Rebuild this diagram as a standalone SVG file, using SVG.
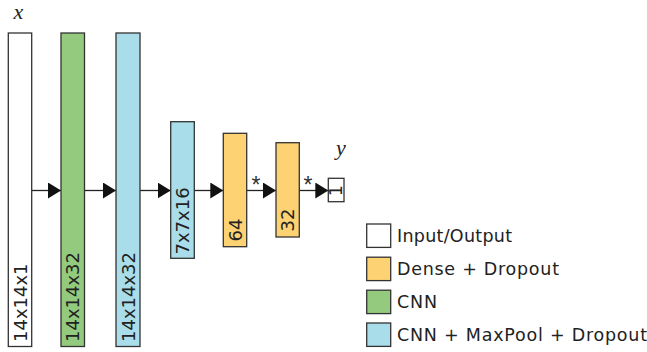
<svg xmlns="http://www.w3.org/2000/svg" width="647" height="352" viewBox="0 0 647 352">
<defs>
<marker id="ah" markerUnits="userSpaceOnUse" markerWidth="14" markerHeight="16" refX="13" refY="8" orient="auto">
<path d="M0,0 L13,8 L0,16 Z" fill="#111"/>
</marker>
<style>
.box{stroke:#333;stroke-width:1.3}
.io{fill:#ffffff}
.dense{fill:#fdd272}
.cnn{fill:#93ca7e}
.pool{fill:#a9dde9}
.lbl{font-family:"DejaVu Sans",sans-serif;font-size:18px;fill:#222}
.leg{font-family:"DejaVu Sans",sans-serif;font-size:17.5px;fill:#222}
.star{font-family:"Liberation Sans",sans-serif;font-size:23px;fill:#333}
.var{font-family:"Liberation Serif",serif;font-style:italic;font-size:22px;fill:#222}
.conn{stroke:#222;stroke-width:1.3;fill:none;marker-end:url(#ah)}
</style>
</defs>
<rect width="647" height="352" fill="#fff"/>
<g id="connectors">
<line class="conn" x1="31.7" y1="190.5" x2="61" y2="190.5"/>
<line class="conn" x1="84.5" y1="190.5" x2="116" y2="190.5"/>
<line class="conn" x1="140" y1="190.5" x2="170.7" y2="190.5"/>
<line class="conn" x1="194.3" y1="190.5" x2="223.3" y2="190.5"/>
<line class="conn" x1="246.7" y1="190.5" x2="276" y2="190.5"/>
<line class="conn" x1="299.3" y1="190.5" x2="328.3" y2="190.5"/>
<text class="star" x="256" y="193" text-anchor="middle">*</text>
<text class="star" x="308" y="193" text-anchor="middle">*</text>
</g>
<g id="input">
<rect class="box io" x="8.3" y="33" width="23.4" height="313.5"/>
<text class="lbl" transform="translate(26.8,342) rotate(-90)">14x14x1</text>
<text class="var" x="18.5" y="19" text-anchor="middle">x</text>
</g>
<g id="cnn1">
<rect class="box cnn" x="61" y="33" width="23.5" height="313.5"/>
<text class="lbl" transform="translate(79.2,342) rotate(-90)">14x14x32</text>
</g>
<g id="pool1">
<rect class="box pool" x="116" y="33" width="24" height="313.5"/>
<text class="lbl" transform="translate(134.5,342) rotate(-90)">14x14x32</text>
</g>
<g id="pool2">
<rect class="box pool" x="170.7" y="121.7" width="23.6" height="136.6"/>
<text class="lbl" transform="translate(189,254.5) rotate(-90)">7x7x16</text>
</g>
<g id="dense1">
<rect class="box dense" x="223.3" y="133.3" width="23.4" height="113.4"/>
<text class="lbl" transform="translate(241.5,241.5) rotate(-90)">64</text>
</g>
<g id="dense2">
<rect class="box dense" x="276" y="142.7" width="23.3" height="94.3"/>
<text class="lbl" transform="translate(294.2,231.5) rotate(-90)">32</text>
</g>
<g id="output">
<rect class="box io" x="328.3" y="178.3" width="15.7" height="23.4"/>
<text class="lbl" style="font-size:17px" transform="translate(342.3,196) rotate(-90)">1</text>
<text class="var" x="341" y="155" text-anchor="middle">y</text>
</g>
<g id="legend">
<rect class="box io" x="366.7" y="224" width="24" height="23.4"/>
<text class="leg" x="397" y="242.3" textLength="115">Input/Output</text>
<rect class="box dense" x="366.7" y="257.2" width="24" height="23.4"/>
<text class="leg" x="397" y="275.3" textLength="162">Dense + Dropout</text>
<rect class="box cnn" x="366.7" y="290.2" width="24" height="23.4"/>
<text class="leg" x="397" y="308.3" textLength="40">CNN</text>
<rect class="box pool" x="366.7" y="323" width="24" height="23.4"/>
<text class="leg" x="397" y="341.3" textLength="250">CNN + MaxPool + Dropout</text>
</g>
</svg>
